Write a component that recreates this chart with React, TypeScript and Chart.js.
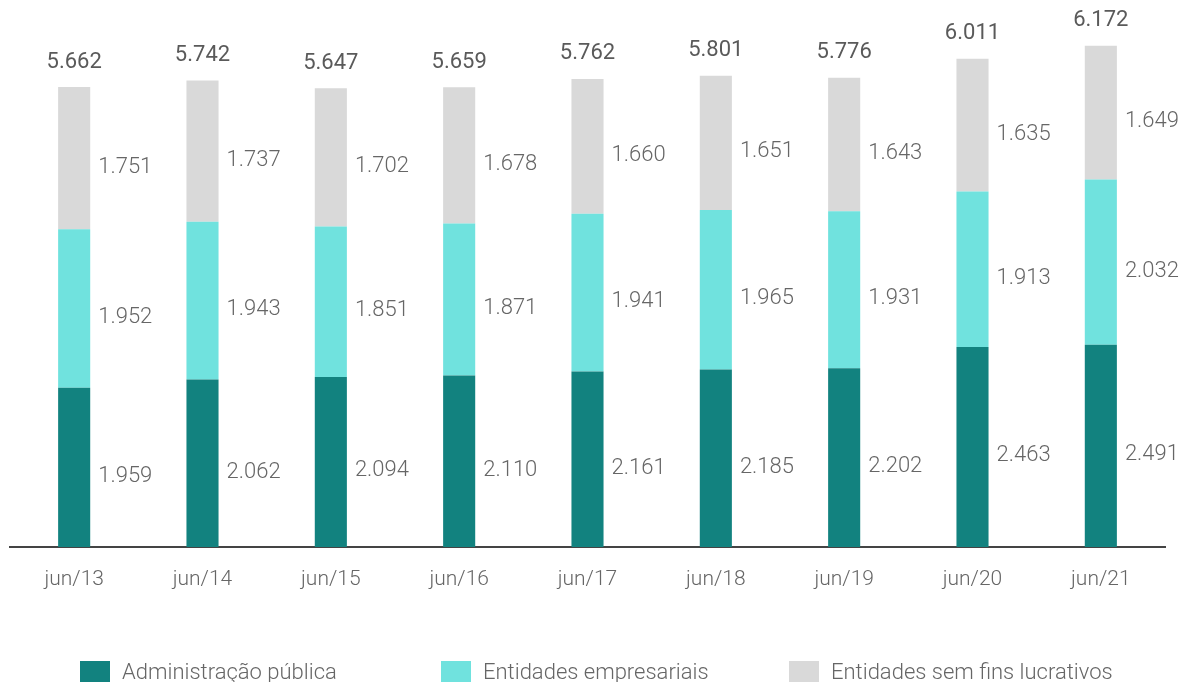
import React, { useEffect, useRef } from "react";
import { Chart, registerables } from "chart.js";

Chart.register(...registerables);

const categories = ["jun/13", "jun/14", "jun/15", "jun/16", "jun/17", "jun/18", "jun/19", "jun/20", "jun/21"];
const administracaoPublica = [1959, 2062, 2094, 2110, 2161, 2185, 2202, 2463, 2491];
const entidadesEmpresariais = [1952, 1943, 1851, 1871, 1941, 1965, 1931, 1913, 2032];
const entidadesSemFins = [1751, 1737, 1702, 1678, 1660, 1651, 1643, 1635, 1649];
const seriesNames = ["Administração pública", "Entidades empresariais", "Entidades sem fins lucrativos"];
const seriesColors = ["#12827f", "#70e2de", "#d9d9d9"];

const fmt = (v: number) => String(v).replace(/\B(?=(\d{3})+(?!\d))/g, ".");

const labelsPlugin = {
  id: "valueLabels",
  afterDatasetsDraw(chart: any) {
    const ctx = chart.ctx;
    ctx.save();
    ctx.font = "300 22px Roboto";
    ctx.fillStyle = "#666666";
    ctx.textAlign = "left";
    ctx.textBaseline = "middle";
    chart.data.datasets.forEach((ds: any, di: number) => {
      const meta = chart.getDatasetMeta(di);
      meta.data.forEach((el: any, i: number) => {
        ctx.fillText(fmt(ds.data[i]), el.x + el.width / 2 + 8, (el.y + el.base) / 2 + 9);
      });
    });
    const last = chart.getDatasetMeta(chart.data.datasets.length - 1);
    ctx.font = "400 22px Roboto";
    ctx.fillStyle = "#5a5a5a";
    ctx.textAlign = "center";
    last.data.forEach((el: any, i: number) => {
      const total = chart.data.datasets.reduce((s: number, d: any) => s + d.data[i], 0);
      ctx.fillText(fmt(total), el.x, el.y - 25);
    });
    ctx.restore();
  },
  afterDraw(chart: any) {
    const ctx = chart.ctx;
    ctx.save();
    const xs = [80, 441, 789];
    ctx.font = "300 22px Roboto";
    ctx.textAlign = "left";
    ctx.textBaseline = "middle";
    seriesNames.forEach((name, i) => {
      ctx.fillStyle = seriesColors[i];
      ctx.fillRect(xs[i], 661, 30, 30);
      ctx.fillStyle = "#666666";
      ctx.fillText(name, xs[i] + 42, 673);
    });
    ctx.restore();
  },
};

export default function App() {
  const ref = useRef<HTMLCanvasElement | null>(null);
  useEffect(() => {
    if (!ref.current) return;
    const chart = new Chart(ref.current, {
      type: "bar",
      data: {
        labels: categories,
        datasets: [
          { label: seriesNames[0], data: administracaoPublica, backgroundColor: seriesColors[0] },
          { label: seriesNames[1], data: entidadesEmpresariais, backgroundColor: seriesColors[1] },
          { label: seriesNames[2], data: entidadesSemFins, backgroundColor: seriesColors[2] },
        ],
      },
      options: {
        animation: false,
        responsive: false,
        layout: { padding: { left: 10, right: 17, top: 19, bottom: 75 } },
        datasets: { bar: { barPercentage: 0.25, categoryPercentage: 1 } },
        plugins: { legend: { display: false }, tooltip: { enabled: false } },
        scales: {
          x: {
            stacked: true,
            grid: { display: false, drawTicks: false },
            border: { display: true, color: "#444444", width: 2 },
            ticks: { padding: 20, color: "#666666", font: { family: "Roboto", size: 21, weight: "300" } },
            afterFit: (scale: any) => { scale.height = 60; },
          },
          y: { stacked: true, display: false, min: 0, max: 6500 },
        },
      },
      plugins: [labelsPlugin],
    });
    return () => chart.destroy();
  }, []);
  return (
    <div style={{ position: "fixed", left: 0, top: 0, width: 1182, height: 682, overflow: "hidden", background: "#fff" }}>
      <canvas ref={ref} width={1182} height={682} style={{ display: "block" }} />
    </div>
  );
}
